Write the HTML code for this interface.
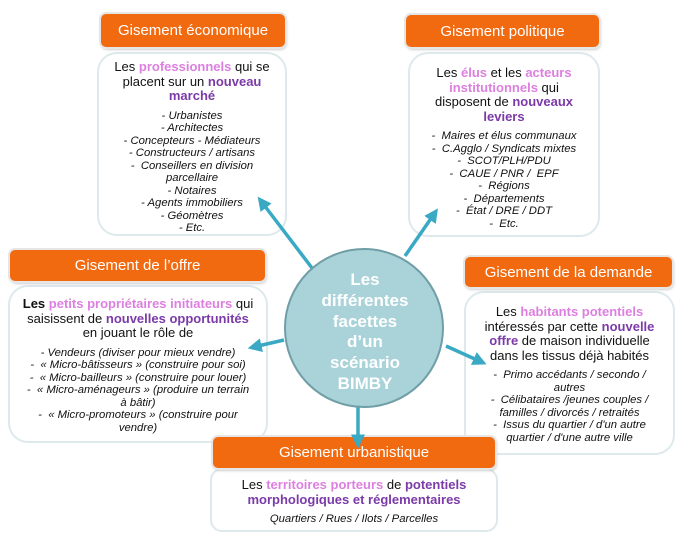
<!DOCTYPE html>
<html><head><meta charset="utf-8"><style>
body{margin:0;width:689px;height:546px;background:#fff;position:relative;overflow:hidden;font-family:"Liberation Sans",sans-serif;color:#111}
.h{position:absolute;background:#f26a10;color:#fff;border-radius:5px;text-align:center;font-size:15px;box-shadow:0 0 0 2px #e6e6e6,1px 2px 3px #aaa;display:flex;align-items:center;justify-content:center}
.b{position:absolute;border:2px solid #dde9ec;border-radius:20px;text-align:center;box-sizing:border-box;background:#fff;white-space:nowrap}
.t{font-size:13px;line-height:14.5px}
.l{font-size:11.3px;line-height:12.5px;font-style:italic;margin-top:6px}
.p{color:#dd7fe0;font-weight:bold}
.v{color:#7b3aa8;font-weight:bold}
</style></head><body>
<div class="b" style="left:97px;top:52px;width:190px;height:184px;padding-top:6px">
<div class="t">Les <span class="p">professionnels</span> qui se<br>placent sur un <span class="v">nouveau</span><br><span class="v">marché</span></div>
<div class="l">- Urbanistes<br>- Architectes<br>- Concepteurs - Médiateurs<br>- Constructeurs / artisans<br>- &nbsp;Conseillers en division<br>parcellaire<br>- Notaires<br>- Agents immobiliers<br>- Géomètres<br>- Etc.</div></div>
<div class="h" style="left:101px;top:14px;width:184px;height:33px">Gisement économique</div>

<div class="b" style="left:408px;top:52px;width:192px;height:185px;padding-top:12px">
<div class="t">Les <span class="p">élus</span> et les <span class="p">acteurs</span><br><span class="p">institutionnels</span> qui<br>disposent de <span class="v">nouveaux</span><br><span class="v">leviers</span></div>
<div class="l">- &nbsp;Maires et élus communaux<br>- &nbsp;C.Agglo / Syndicats mixtes<br>- &nbsp;SCOT/PLH/PDU<br>- &nbsp;CAUE / PNR / &nbsp;EPF<br>- &nbsp;Régions<br>- &nbsp;Départements<br>- &nbsp;État / DRE / DDT<br>- &nbsp;Etc.</div></div>
<div class="h" style="left:406px;top:15px;width:193px;height:32px">Gisement politique</div>

<div class="b" style="left:8px;top:285px;width:260px;height:158px;padding-top:10px">
<div class="t"><b>Les</b> <span class="p">petits propriétaires initiateurs</span> qui<br>saisissent de <span class="v">nouvelles opportunités</span><br>en jouant le rôle de</div>
<div class="l">- Vendeurs (diviser pour mieux vendre)<br>- &nbsp;« Micro-bâtisseurs » (construire pour soi)<br>- &nbsp;« Micro-bailleurs » (construire pour louer)<br>- &nbsp;« Micro-aménageurs » (produire un terrain<br>à bâtir)<br>- &nbsp;« Micro-promoteurs » (construire pour<br>vendre)</div></div>
<div class="h" style="left:10px;top:250px;width:255px;height:31px">Gisement de l’offre</div>

<div class="b" style="left:464px;top:291px;width:211px;height:164px;padding-top:12px">
<div class="t">Les <span class="p">habitants potentiels</span><br>intéressés par cette <span class="v">nouvelle</span><br><span class="v">offre</span> de maison individuelle<br>dans les tissus déjà habités</div>
<div class="l">- &nbsp;Primo accédants / secondo /<br>autres<br>- &nbsp;Célibataires /jeunes couples /<br>familles / divorcés / retraités<br>- &nbsp;Issus du quartier / d'un autre<br>quartier / d'une autre ville</div></div>
<div class="h" style="left:465px;top:257px;width:207px;height:30px">Gisement de la demande</div>

<div class="b" style="left:210px;top:468px;width:288px;height:64px;padding-top:8px;border-radius:12px">
<div class="t"><span style="font-weight:normal">Les</span> <span class="p">territoires porteurs</span> de <span class="v">potentiels</span><br><span class="v">morphologiques et réglementaires</span></div>
<div class="l" style="margin-top:6px">Quartiers / Rues / Ilots / Parcelles</div></div>
<div class="h" style="left:213px;top:437px;width:282px;height:31px">Gisement urbanistique</div>

<svg width="689" height="546" style="position:absolute;left:0;top:0">
<defs><marker id="a" markerWidth="4" markerHeight="4" refX="1" refY="2" orient="auto"><path d="M0,0 L4,2 L0,4z" fill="#3aa9c4"/></marker></defs>
<g stroke="#3aa9c4" stroke-width="3.5" marker-end="url(#a)">
<line x1="312" y1="268" x2="264" y2="205"/>
<line x1="405" y1="256" x2="432" y2="217"/>
<line x1="284" y1="340" x2="258" y2="346"/>
<line x1="446" y1="346" x2="477" y2="360"/>
<line x1="358" y1="407" x2="358" y2="438"/>
</g>
<circle cx="364" cy="328" r="79" fill="#a9d3d9" stroke="#6f9ea6" stroke-width="2"/>
<g fill="#fff" font-family="Liberation Sans" font-weight="bold" font-size="17" text-anchor="middle">
<text x="365" y="285">Les</text><text x="365" y="306">différentes</text><text x="365" y="327">facettes</text><text x="365" y="347">d’un</text><text x="365" y="368">scénario</text><text x="365" y="389">BIMBY</text></g>
</svg>
</body></html>
